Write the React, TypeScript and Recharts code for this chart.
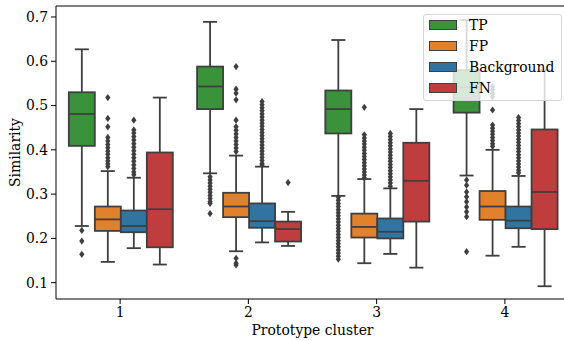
import { Bar, ComposedChart, ReferenceLine, XAxis, YAxis } from "recharts";

const clusters = ["1", "2", "3", "4"];
const groups = ["TP", "FP", "Background", "FN"];
const colors = ["#3a923a", "#e1812c", "#3274a1", "#c03d3e"];
const yTicks = [0.1, 0.2, 0.3, 0.4, 0.5, 0.6, 0.7];
const yDomain = [0.0632, 0.7248];

// [lower whisker, q1, median, q3, upper whisker] for clusters 1..4
const tpStats = [
    [0.228, 0.409, 0.481, 0.530, 0.627],
    [0.347, 0.492, 0.543, 0.588, 0.689],
    [0.296, 0.437, 0.492, 0.534, 0.648],
    [0.342, 0.484, 0.541, 0.580, 0.693],
];
const fpStats = [
    [0.147, 0.217, 0.243, 0.272, 0.352],
    [0.171, 0.248, 0.272, 0.303, 0.387],
    [0.144, 0.202, 0.226, 0.256, 0.334],
    [0.161, 0.242, 0.272, 0.307, 0.400],
];
const bgStats = [
    [0.178, 0.214, 0.228, 0.263, 0.337],
    [0.191, 0.224, 0.239, 0.279, 0.362],
    [0.165, 0.200, 0.215, 0.245, 0.313],
    [0.181, 0.223, 0.240, 0.272, 0.341],
];
const fnStats = [
    [0.141, 0.180, 0.266, 0.394, 0.518],
    [0.183, 0.193, 0.221, 0.238, 0.260],
    [0.134, 0.238, 0.330, 0.416, 0.492],
    [0.092, 0.221, 0.305, 0.446, 0.580],
];

// outliers (fliers) per cluster
const tpOutliers = [
    [0.218, 0.194, 0.164],
    [0.339, 0.332, 0.325, 0.318, 0.311, 0.304, 0.297, 0.290, 0.283, 0.279, 0.256],
    [0.293, 0.286, 0.279, 0.272, 0.265, 0.258, 0.251, 0.244, 0.237, 0.230, 0.223, 0.216, 0.209, 0.202, 0.195, 0.188, 0.181, 0.174, 0.167, 0.160, 0.153],
    [0.332, 0.320, 0.305, 0.294, 0.283, 0.271, 0.260, 0.249, 0.170],
];
const fpOutliers = [
    [0.518, 0.471, 0.452, 0.428, 0.420, 0.412, 0.405, 0.397, 0.390, 0.382, 0.375, 0.368, 0.362],
    [0.588, 0.537, 0.528, 0.513, 0.467, 0.452, 0.444, 0.436, 0.428, 0.420, 0.412, 0.404, 0.396, 0.155, 0.144, 0.140],
    [0.496, 0.434, 0.427, 0.420, 0.413, 0.406, 0.399, 0.392, 0.385, 0.378, 0.371, 0.364, 0.357, 0.350, 0.343, 0.337],
    [0.543, 0.535, 0.527, 0.520, 0.490, 0.456, 0.449, 0.442, 0.435, 0.428, 0.421, 0.414, 0.408],
];
const bgOutliers = [
    [0.467, 0.445, 0.438, 0.430, 0.422, 0.414, 0.406, 0.398, 0.390, 0.382, 0.374, 0.366, 0.358, 0.350, 0.344],
    [0.509, 0.502, 0.495, 0.488, 0.481, 0.474, 0.467, 0.460, 0.453, 0.446, 0.439, 0.432, 0.425, 0.418, 0.411, 0.404, 0.397, 0.390, 0.383, 0.376, 0.369, 0.366],
    [0.437, 0.430, 0.423, 0.416, 0.409, 0.402, 0.395, 0.388, 0.381, 0.374, 0.367, 0.360, 0.353, 0.346, 0.339, 0.332, 0.325, 0.318],
    [0.473, 0.466, 0.459, 0.452, 0.445, 0.438, 0.431, 0.424, 0.417, 0.410, 0.403, 0.396, 0.389, 0.382, 0.375, 0.368, 0.361, 0.354, 0.348],
];
const fnOutliers = [[], [0.326], [], []];

const allStats = [tpStats, fpStats, bgStats, fnStats];
const allOutliers = [tpOutliers, fpOutliers, bgOutliers, fnOutliers];

const data = clusters.map((c, i) => {
    const row: any = { cluster: c };
    groups.forEach((g, j) => {
        const s = allStats[j][i];
        row[g] = [s[1], s[3]];
        row[g + "Stats"] = s;
        row[g + "Out"] = allOutliers[j][i];
    });
    return row;
});

const EDGE = "#3f3f3f";
const FONT = "'DejaVu Serif', 'Liberation Serif', serif";
const txt = { fill: "#000", fontFamily: FONT, fontSize: 13.9 };

const makeBox = (name: string, color: string) => (props: any) => {
    const { x, y, width, height, payload } = props;
    const [lo, q1, med, q3, hi] = payload[name + "Stats"];
    const top = Math.min(y, y + height);
    const h = Math.abs(height);
    // pixel position from the bar's own scaled geometry
    const py = (v: number) => top + ((q3 - v) * h) / (q3 - q1);
    const cx = x + width / 2;
    const cap = width * 0.27;
    const out: number[] = payload[name + "Out"];
    return (
        <g>
            <line x1={cx} x2={cx} y1={py(hi)} y2={py(q3)} stroke={EDGE} strokeWidth={1.8} />
            <line x1={cx} x2={cx} y1={py(q1)} y2={py(lo)} stroke={EDGE} strokeWidth={1.8} />
            <line x1={cx - cap} x2={cx + cap} y1={py(hi)} y2={py(hi)} stroke={EDGE} strokeWidth={1.8} />
            <line x1={cx - cap} x2={cx + cap} y1={py(lo)} y2={py(lo)} stroke={EDGE} strokeWidth={1.8} />
            <rect x={x} y={top} width={width} height={h} fill={color} stroke={EDGE} strokeWidth={1.8} />
            <line x1={x} x2={x + width} y1={py(med)} y2={py(med)} stroke={EDGE} strokeWidth={1.8} />
            {out.map((v, k) => {
                const oy = py(v);
                return (
                    <path
                        key={k}
                        d={`M${cx},${oy - 3.6}L${cx + 2.6},${oy}L${cx},${oy + 3.6}L${cx - 2.6},${oy}Z`}
                        fill={EDGE}
                    />
                );
            })}
        </g>
    );
};

const LegendBox = () => (
    <div
        style={{
            position: "absolute",
            left: 423,
            top: 14,
            width: 139,
            height: 87,
            boxSizing: "border-box",
            background: "rgba(255,255,255,0.8)",
            border: "1px solid #d6d6d6",
            borderRadius: 3,
            fontFamily: FONT,
            fontSize: 13.9,
            color: "#000",
        }}
    >
        {groups.map((g, i) => (
            <div key={g} style={{ height: 20.8, display: "flex", alignItems: "center" }}>
                <div
                    style={{
                        marginLeft: 5,
                        width: 28,
                        height: 10,
                        boxSizing: "border-box",
                        background: colors[i],
                        border: `1px solid ${EDGE}`,
                    }}
                />
                <span style={{ marginLeft: 12, lineHeight: "14px" }}>{g}</span>
            </div>
        ))}
    </div>
);

const App = () => {
    return (
        <div
            style={{
                position: "absolute",
                left: 0,
                top: 0,
                width: 564,
                height: 341,
                overflow: "hidden",
                background: "#fff",
                fontFamily: FONT,
            }}
        >
            <ComposedChart
                width={569}
                height={341}
                data={data}
                margin={{ top: 6, right: 0, left: 6, bottom: 0 }}
                barCategoryGap="10%"
                barGap={0}
            >
                <XAxis
                    dataKey="cluster"
                    type="category"
                    height={42}
                    tickSize={5}
                    tickMargin={3.5}
                    stroke="#000"
                    tick={txt}
                    label={{ value: "Prototype cluster", position: "insideBottom", offset: 6, ...txt }}
                />
                <YAxis
                    width={50}
                    domain={yDomain}
                    ticks={yTicks}
                    allowDataOverflow
                    tickSize={5}
                    tickMargin={3}
                    stroke="#000"
                    tickFormatter={(v: number) => v.toFixed(1)}
                    tick={txt}
                    label={{
                        value: "Similarity",
                        angle: -90,
                        position: "insideLeft",
                        offset: 9,
                        ...txt,
                        style: { textAnchor: "middle" },
                    }}
                />
                <ReferenceLine y={yDomain[1]} stroke="#000" strokeWidth={1} />
                {groups.map((g, i) => (
                    <Bar key={g} dataKey={g} fill={colors[i]} shape={makeBox(g, colors[i])} isAnimationActive={false} />
                ))}
            </ComposedChart>
            <LegendBox />
        </div>
    );
};

export default App;
